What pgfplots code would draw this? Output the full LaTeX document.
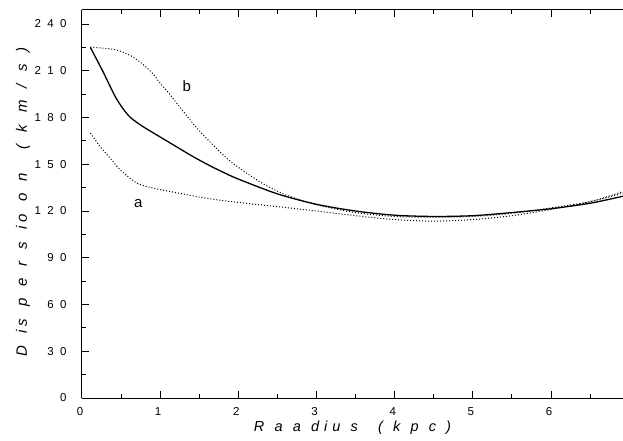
\documentclass[border=0pt]{standalone}
\usepackage{pgfplots}
\pgfplotsset{compat=1.18}
\usepackage{fontspec}
\setmainfont{Liberation Sans}
\newcommand\g{\hspace{0.55em}}
\newcommand\s{\hspace{0.35em}}
\newcommand\q{\hspace{0.4em}}
\begin{document}
\begin{tikzpicture}
\begin{axis}[
  scale only axis,
  width=541pt, height=388pt,
  xmin=0, xmax=6.92, ymin=0, ymax=249,
  axis x line=box, axis y line*=left,
  axis line style={line width=1pt},
  xtick={0,1,2,3,4,5,6},
  xticklabels={0,1,2,3,4,5,6},
  minor xtick={0.5,1.5,2.5,3.5,4.5,5.5,6.5},
  ytick={0,30,60,90,120,150,180,210,240},
  yticklabels={0,3\g 0,6\g 0,9\g 0,1\g 2\g 0,1\g 5\g 0,1\g 8\g 0,2\g 1\g 0,2\g 4\g 0},
  minor ytick={15,45,75,105,135,165,195,225},
  tick align=inside,
  major tick length=7pt, minor tick length=4pt,
  every tick/.style={black, line width=1pt},
  tick label style={font=\fontsize{11.5}{13}\selectfont},
  yticklabel style={xshift=-12pt},
  xticklabel style={yshift=-6pt, xshift=-2pt},
  xlabel={\itshape R\s\s a\s\s a\s\s d\s i\s u\s\s s\s\s\s\s (\s\s k\s\s p\s\s c\s\s )},
  ylabel={\itshape D\q\q i s\q\q p\q\q e\q\q r\q\q s\q\q i o\q\q o\q\q n\q\q\q\q (\q\q k\q\q m\q\q /\q\q s\q\q )},
  xlabel style={font=\fontsize{14.5}{17}\selectfont, at={(axis description cs:0.5,0)}, anchor=base, yshift=-33pt},
  ylabel style={font=\fontsize{15}{17}\selectfont, at={(axis description cs:0,0.505)}, anchor=base, yshift=55pt},
]
\coordinate (BL) at (rel axis cs:0,0);
\coordinate (TR) at (rel axis cs:1,1);
\addplot[black, line width=1.3pt, smooth, tension=0.5] coordinates {
(0.107,225) (0.256,210.7) (0.35,201) (0.43,193) (0.52,186) (0.62,180) (0.77,174.5) (1.0,167.5) (1.2,161.5) (1.4,155.5) (1.6,150) (1.8,145) (2.0,140.5) (2.5,131)
(3.0,124.3) (3.5,120) (4.0,117.3) (4.5,116.5) (5.0,117) (5.5,119) (6.0,121.5) (6.5,125) (6.92,129.5)};
\addplot[black, line width=1pt, dotted, smooth, tension=0.5] coordinates {
(0.107,225.2) (0.43,223.5) (0.64,219.2) (0.77,214.5) (0.9,208.5) (1.0,202) (1.11,195.7) (1.21,189.3) (1.32,182.4) (1.47,173.2) (1.6,166.2) (1.73,159.7) (1.85,154)
(2.0,148) (2.3,138) (2.6,130.5) (3.0,124) (3.5,119) (4.0,116.5) (4.5,116) (5.0,116.5) (5.5,118.5) (6.0,122) (6.5,126) (6.92,131.5)};
\addplot[black, line width=1pt, dotted, smooth, tension=0.5] coordinates {
(0.107,170) (0.23,161.5) (0.36,153.9) (0.49,146.4) (0.70,138) (0.9,134.8) (1.13,132.5) (1.59,128.2) (2.0,125.5) (2.5,122.8)
(3.0,120) (3.5,117) (4.0,114.5) (4.5,113.5) (5.0,114.5) (5.5,117) (6.0,121) (6.5,126) (6.92,132.5)};
\node[font=\fontsize{15}{17}\selectfont] at (axis cs:0.72,125) {a};
\node[font=\fontsize{15}{17}\selectfont] at (axis cs:1.34,200) {b};
\end{axis}
\pgfresetboundingbox
\path[use as bounding box] ([xshift=-82pt,yshift=-43pt]BL) rectangle ([yshift=10pt]TR);
\end{tikzpicture}
\end{document}
